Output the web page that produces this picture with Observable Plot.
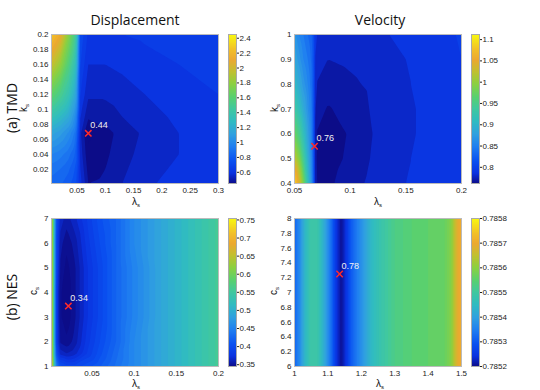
<!DOCTYPE html>
<html><head><meta charset="utf-8">
<script src="https://cdn.jsdelivr.net/npm/d3@7"></script>
<script src="https://cdn.jsdelivr.net/npm/@observablehq/plot@0.6"></script>
<style>
html,body{margin:0;padding:0;background:#fff;}
#chart{position:relative;width:540px;height:390px;overflow:hidden;background:#fff;}
#chart > svg{position:absolute;left:0;top:0;}
</style></head><body><div id="chart"></div>
<script>
// ---------- (a) TMD, displacement ----------
const lamTMDd = [0.005, 0.02, 0.035, 0.048, 0.056, 0.07, 0.1, 0.13, 0.17, 0.23, 0.3];
const kTMDd = [0.2, 0.16, 0.12, 0.09, 0.068, 0.04, 0.02, 0.001];
const dispTMD = [
  [2.30, 2.15, 1.80, 1.50, 0.74, 0.64, 0.64, 0.65, 0.66, 0.67, 0.69],
  [2.00, 1.85, 1.60, 1.35, 0.70, 0.60, 0.60, 0.61, 0.63, 0.65, 0.67],
  [1.66, 1.55, 1.40, 1.18, 0.65, 0.56, 0.56, 0.58, 0.60, 0.63, 0.65],
  [1.38, 1.30, 1.20, 1.02, 0.60, 0.51, 0.52, 0.55, 0.58, 0.61, 0.64],
  [1.17, 1.12, 1.04, 0.92, 0.56, 0.44, 0.48, 0.52, 0.56, 0.60, 0.63],
  [1.00, 0.97, 0.92, 0.84, 0.58, 0.46, 0.49, 0.53, 0.57, 0.60, 0.63],
  [0.92, 0.90, 0.86, 0.79, 0.60, 0.48, 0.50, 0.54, 0.58, 0.61, 0.64],
  [0.88, 0.86, 0.82, 0.76, 0.62, 0.50, 0.51, 0.55, 0.59, 0.62, 0.64]
];
const minTMDd = {x: 0.07, y: 0.068, label: "0.44"};
const xTicksTMDd = [0.05, 0.1, 0.15, 0.2, 0.25, 0.3];
const yTicksTMDd = [0.02, 0.04, 0.06, 0.08, 0.1, 0.12, 0.14, 0.16, 0.18, 0.2];
const cTicksTMDd = [0.6, 0.8, 1, 1.2, 1.4, 1.6, 1.8, 2, 2.2, 2.4];

// ---------- (a) TMD, velocity ----------
const lamTMDv = [0.05, 0.054, 0.058, 0.062, 0.066, 0.069, 0.08, 0.1, 0.12, 0.15, 0.2];
const kTMDv = [1.0, 0.9, 0.8, 0.7, 0.6, 0.5, 0.4];
const velTMD = [
  [0.875, 0.86, 0.85, 0.84, 0.83, 0.79, 0.785, 0.786, 0.788, 0.792, 0.801],
  [0.89, 0.875, 0.86, 0.85, 0.835, 0.785, 0.78, 0.782, 0.785, 0.79, 0.80],
  [0.91, 0.895, 0.875, 0.86, 0.84, 0.78, 0.775, 0.778, 0.782, 0.789, 0.80],
  [0.94, 0.92, 0.895, 0.87, 0.845, 0.775, 0.769, 0.774, 0.781, 0.788, 0.799],
  [0.98, 0.955, 0.92, 0.885, 0.85, 0.77, 0.765, 0.771, 0.78, 0.788, 0.799],
  [1.03, 1.0, 0.95, 0.90, 0.855, 0.768, 0.766, 0.772, 0.781, 0.789, 0.80],
  [1.10, 1.05, 0.99, 0.92, 0.86, 0.77, 0.768, 0.775, 0.783, 0.79, 0.80]
];
const minTMDv = {x: 0.068, y: 0.55, label: "0.76"};
const xTicksTMDv = [0.05, 0.1, 0.15, 0.2];
const yTicksTMDv = [0.4, 0.5, 0.6, 0.7, 0.8, 0.9, 1];
const cTicksTMDv = [0.8, 0.85, 0.9, 0.95, 1, 1.05, 1.1];

// ---------- (b) NES, displacement ----------
const lamNESd = [0.002, 0.004, 0.007, 0.012, 0.02, 0.03, 0.045, 0.06, 0.08, 0.1, 0.13, 0.16, 0.2];
const cNESd = [7, 6, 5, 4, 3, 2, 1.5, 1];
const dispNES = [
  [0.74, 0.55, 0.42, 0.37, 0.36, 0.37, 0.39, 0.41, 0.43, 0.46, 0.49, 0.52, 0.56],
  [0.74, 0.55, 0.41, 0.36, 0.35, 0.36, 0.385, 0.405, 0.43, 0.46, 0.49, 0.52, 0.56],
  [0.74, 0.55, 0.41, 0.355, 0.345, 0.355, 0.38, 0.40, 0.43, 0.455, 0.49, 0.52, 0.56],
  [0.74, 0.55, 0.40, 0.35, 0.342, 0.355, 0.38, 0.40, 0.43, 0.455, 0.49, 0.52, 0.56],
  [0.74, 0.55, 0.40, 0.35, 0.342, 0.355, 0.38, 0.40, 0.43, 0.455, 0.49, 0.52, 0.56],
  [0.74, 0.55, 0.40, 0.355, 0.35, 0.36, 0.385, 0.405, 0.43, 0.46, 0.49, 0.52, 0.56],
  [0.74, 0.55, 0.42, 0.37, 0.365, 0.37, 0.39, 0.41, 0.435, 0.46, 0.49, 0.52, 0.56],
  [0.74, 0.58, 0.46, 0.41, 0.40, 0.40, 0.41, 0.42, 0.44, 0.46, 0.49, 0.52, 0.56]
];
const minNESd = {x: 0.022, y: 3.45, label: "0.34"};
const xTicksNESd = [0.05, 0.1, 0.15, 0.2];
const yTicksNESd = [1, 2, 3, 4, 5, 6, 7];
const cTicksNESd = [0.35, 0.4, 0.45, 0.5, 0.55, 0.6, 0.65, 0.7, 0.75];

// ---------- (b) NES, velocity (constant along c_s) ----------
const lamNESv = [1.0, 1.015, 1.03, 1.05, 1.07, 1.09, 1.11, 1.125, 1.14, 1.155, 1.17, 1.2, 1.23, 1.26, 1.3, 1.35, 1.4, 1.45, 1.47, 1.48, 1.49, 1.5];
const cNESv = [8, 6];
const velNES = [0.78532, 0.78537, 0.78544, 0.78550, 0.78549, 0.78542, 0.78533, 0.78525, 0.78521, 0.78525, 0.78531, 0.78538, 0.78545, 0.78549, 0.78553, 0.78555, 0.78556, 0.78557, 0.78560, 0.78566, 0.78570, 0.78571];
const minNESv = {x: 1.135, y: 7.25, label: "0.78"};
const xTicksNESv = [1, 1.1, 1.2, 1.3, 1.4, 1.5];
const yTicksNESv = [6, 6.2, 6.4, 6.6, 6.8, 7, 7.2, 7.4, 7.6, 7.8, 8];
const cTicksNESv = [0.7852, 0.7853, 0.7854, 0.7855, 0.7856, 0.7857, 0.7858];

// ---------- colormap (parula-like) ----------
const cmapStops = [0, 0.07, 0.15, 0.25, 0.33, 0.42, 0.5, 0.58, 0.67, 0.75, 0.83, 0.9, 1];
const cmapColors = ["#0c0c88", "#0a32e0", "#0a50f0", "#2080f0", "#30a0e0", "#30bcc0", "#40c8a0", "#58d070", "#8cd040", "#c0c030", "#eca830", "#f2c028", "#f8f810"];
const cmap = d3.scaleLinear().domain(cmapStops).range(cmapColors).interpolate(d3.interpolateRgb).clamp(true);

const W = 540, H = 390;
const FONT = "Liberation Sans, Arial, Helvetica, sans-serif";
const chart = document.getElementById("chart");

function baseStyle() {
  return {background: "transparent", fontFamily: FONT, fontSize: "8px", color: "#222", overflow: "visible"};
}

function gridPoints(lams, pars, grid) {
  const pts = [];
  grid.forEach((row, i) => row.forEach((v, j) => pts.push({x: lams[j], y: pars[i], v})));
  return pts;
}

function panel(o) {
  const [l, t, r, b] = o.frame;
  return Plot.plot({
    width: W, height: H,
    marginLeft: l, marginTop: t, marginRight: W - r, marginBottom: H - b,
    style: baseStyle(),
    x: {domain: o.xDomain, label: null},
    y: {domain: o.yDomain, label: null},
    color: {type: "linear", domain: o.cDomain, interpolate: (u) => cmap(u)},
    marks: [
      Plot.contour(o.points, {x: "x", y: "y", value: "v", fill: "value", stroke: "none",
        interpolate: "barycentric", thresholds: o.thresholds}),
      Plot.frame({stroke: "#bbb"}),
      Plot.axisX(o.xTicks, {tickSize: 0, tickPadding: 4, tickFormat: String, label: null}),
      Plot.axisY(o.yTicks, {tickSize: 0, tickPadding: 3, tickFormat: String, label: null}),
      Plot.dot([o.min], {x: "x", y: "y", symbol: "times", stroke: "#ff2a2a", r: 3, strokeWidth: 1.5}),
      Plot.text([o.min], {x: "x", y: "y", text: "label", dx: 2, dy: -8, textAnchor: "start",
        fill: "#f2f2f2", fontSize: 9})
    ]
  });
}

function colorbar(o) {
  const [l, t, r, b] = o.frame;
  return Plot.plot({
    width: W, height: H,
    marginLeft: l, marginTop: t, marginRight: W - r, marginBottom: H - b,
    style: baseStyle(),
    x: {domain: [0, 1], axis: null},
    y: {domain: o.cDomain, label: null},
    color: {type: "linear", domain: o.cDomain, interpolate: (u) => cmap(u)},
    marks: [
      Plot.raster({x1: 0, x2: 1, y1: o.cDomain[0], y2: o.cDomain[1], fill: (x, y) => y}),
      Plot.frame({stroke: "#aaa"}),
      Plot.axisY(o.ticks, {anchor: "right", tickSize: 2, tickPadding: 1, tickFormat: String, label: null})
    ]
  });
}

const panels = [
  {points: gridPoints(lamTMDd, kTMDd, dispTMD), xDomain: [0.005, 0.3], yDomain: [0.001, 0.2],
   cDomain: [0.45, 2.45], thresholds: d3.range(0.4, 2.5, 0.05), frame: [51, 34, 218, 183],
   xTicks: xTicksTMDd, yTicks: yTicksTMDd, min: minTMDd, cTicks: cTicksTMDd, cbFrame: [228, 34, 236, 183]},
  {points: gridPoints(lamTMDv, kTMDv, velTMD), xDomain: [0.05, 0.2], yDomain: [0.4, 1],
   cDomain: [0.762, 1.112], thresholds: d3.range(0.76, 1.12, 0.01), frame: [294, 34, 461, 183],
   xTicks: xTicksTMDv, yTicks: yTicksTMDv, min: minTMDv, cTicks: cTicksTMDv, cbFrame: [471, 34, 479, 183]},
  {points: gridPoints(lamNESd, cNESd, dispNES), xDomain: [0.002, 0.2], yDomain: [1, 7],
   cDomain: [0.345, 0.754], thresholds: d3.range(0.34, 0.76, 0.008), frame: [51, 218, 218, 366],
   xTicks: xTicksNESd, yTicks: yTicksNESd, min: minNESd, cTicks: cTicksNESd, cbFrame: [228, 218, 236, 366]},
  {points: gridPoints(lamNESv, cNESv, [velNES, velNES]), xDomain: [1, 1.5], yDomain: [6, 8],
   cDomain: [0.7852, 0.7858], thresholds: d3.range(0, 61).map(i => 0.7852 + i * 0.00001), frame: [294, 218, 461, 366],
   xTicks: xTicksNESv, yTicks: yTicksNESv, min: minNESv, cTicks: cTicksNESv, cbFrame: [471, 218, 479, 366]}
];

for (const p of panels) {
  chart.appendChild(panel(p));
  chart.appendChild(colorbar({cDomain: p.cDomain, ticks: p.cTicks, frame: p.cbFrame}));
}

// ---------- titles and labels ----------
const svg = d3.select(chart).append("svg").attr("width", W).attr("height", H)
  .style("position", "absolute").style("left", 0).style("top", 0).style("overflow", "visible");

function plainText(x, y, s, size, rot, family) {
  svg.append("text").attr("transform", `translate(${x},${y}) rotate(${rot})`)
    .attr("text-anchor", "middle").attr("dominant-baseline", "central")
    .attr("font-family", family).attr("font-size", size).attr("fill", "#111").text(s);
}
function subLabel(x, y, main, sub, rot) {
  const t = svg.append("text").attr("transform", `translate(${x},${y}) rotate(${rot})`)
    .attr("text-anchor", "middle").attr("font-family", FONT).attr("font-size", 10).attr("fill", "#111")
    .attr("dy", "0.35em");
  t.append("tspan").text(main);
  t.append("tspan").attr("font-size", 6).attr("dy", 2).text(sub);
}

plainText(135, 19, "Displacement", 14, 0, "Open Sans, sans-serif");
plainText(380, 19, "Velocity", 14, 0, "Open Sans, sans-serif");
plainText(11, 108, "(a) TMD", 14, -90, "Open Sans, sans-serif");
plainText(11, 297, "(b) NES", 14, -90, "Open Sans, sans-serif");

subLabel(23, 108, "k", "s", -90);
subLabel(274, 108, "k", "s", -90);
subLabel(33, 291, "c", "s", -90);
subLabel(273, 291, "c", "s", -90);
subLabel(136, 201, "λ", "s", 0);
subLabel(378, 201, "λ", "s", 0);
subLabel(136, 383, "λ", "s", 0);
subLabel(380, 383, "λ", "s", 0);
</script></body></html>
